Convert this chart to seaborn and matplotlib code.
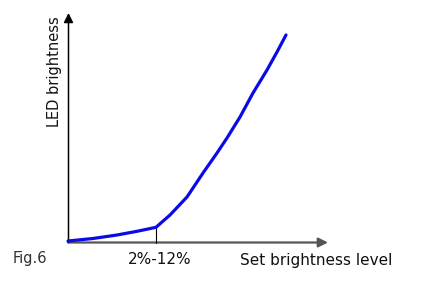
import matplotlib
matplotlib.use("Agg")
import matplotlib.pyplot as plt
import seaborn as sns
import pandas as pd

# Data (x: set brightness level, y: LED brightness) in arbitrary units
level = [0, 25, 49, 69, 88, 102, 119, 135, 149, 159, 172, 185, 199, 209, 218]
brightness = [0, 2.5, 6, 9.7, 13.7, 26, 44, 68, 88, 103, 124, 148, 171, 189, 206]
knee_level = 88
knee_label = "2%-12%"
x_label = "Set brightness level"
y_label = "LED brightness"
fig_label = "Fig.6"

sns.set_style("white")
plt.rcParams['font.family'] = ['DejaVu Sans']

fig = plt.figure(figsize=(4.24, 3.05), dpi=100)
ax = fig.add_axes([0, 0, 1, 1])
ax.set_xlim(-68, 356)
ax.set_ylim(-64, 241)
ax.axis("off")

df = pd.DataFrame({"level": level, "brightness": brightness})
sns.lineplot(data=df, x="level", y="brightness", ax=ax, color="#0a0ae6",
             linewidth=2.3, solid_capstyle="round", solid_joinstyle="round", zorder=3)

# axes with arrows
ax.annotate("", xy=(260, -1.5), xytext=(0, -1.5),
            arrowprops=dict(arrowstyle="-|>", color="#555555", lw=1.6,
                            mutation_scale=14, shrinkA=0, shrinkB=0), zorder=2)
ax.annotate("", xy=(0.5, 228), xytext=(0.5, -1.5),
            arrowprops=dict(arrowstyle="-|>", color="black", lw=1.1,
                            mutation_scale=14, shrinkA=0, shrinkB=0), zorder=2)

# knee tick
ax.plot([knee_level, knee_level], [-1.5, 13.7], color="black", lw=0.8, zorder=2)

ax.text(knee_level + 4, -19, knee_label, ha="center", va="center", fontsize=11, color="#111111")
ax.text(248, -19, x_label, ha="center", va="center", fontsize=11, color="#111111")
ax.text(-38, -17, fig_label, ha="center", va="center", fontsize=10.5, color="#333333")
ax.text(-13, 169, y_label, ha="center", va="center", rotation=90, fontsize=10.5, color="#111111")

fig.savefig("out.png", dpi=100)
